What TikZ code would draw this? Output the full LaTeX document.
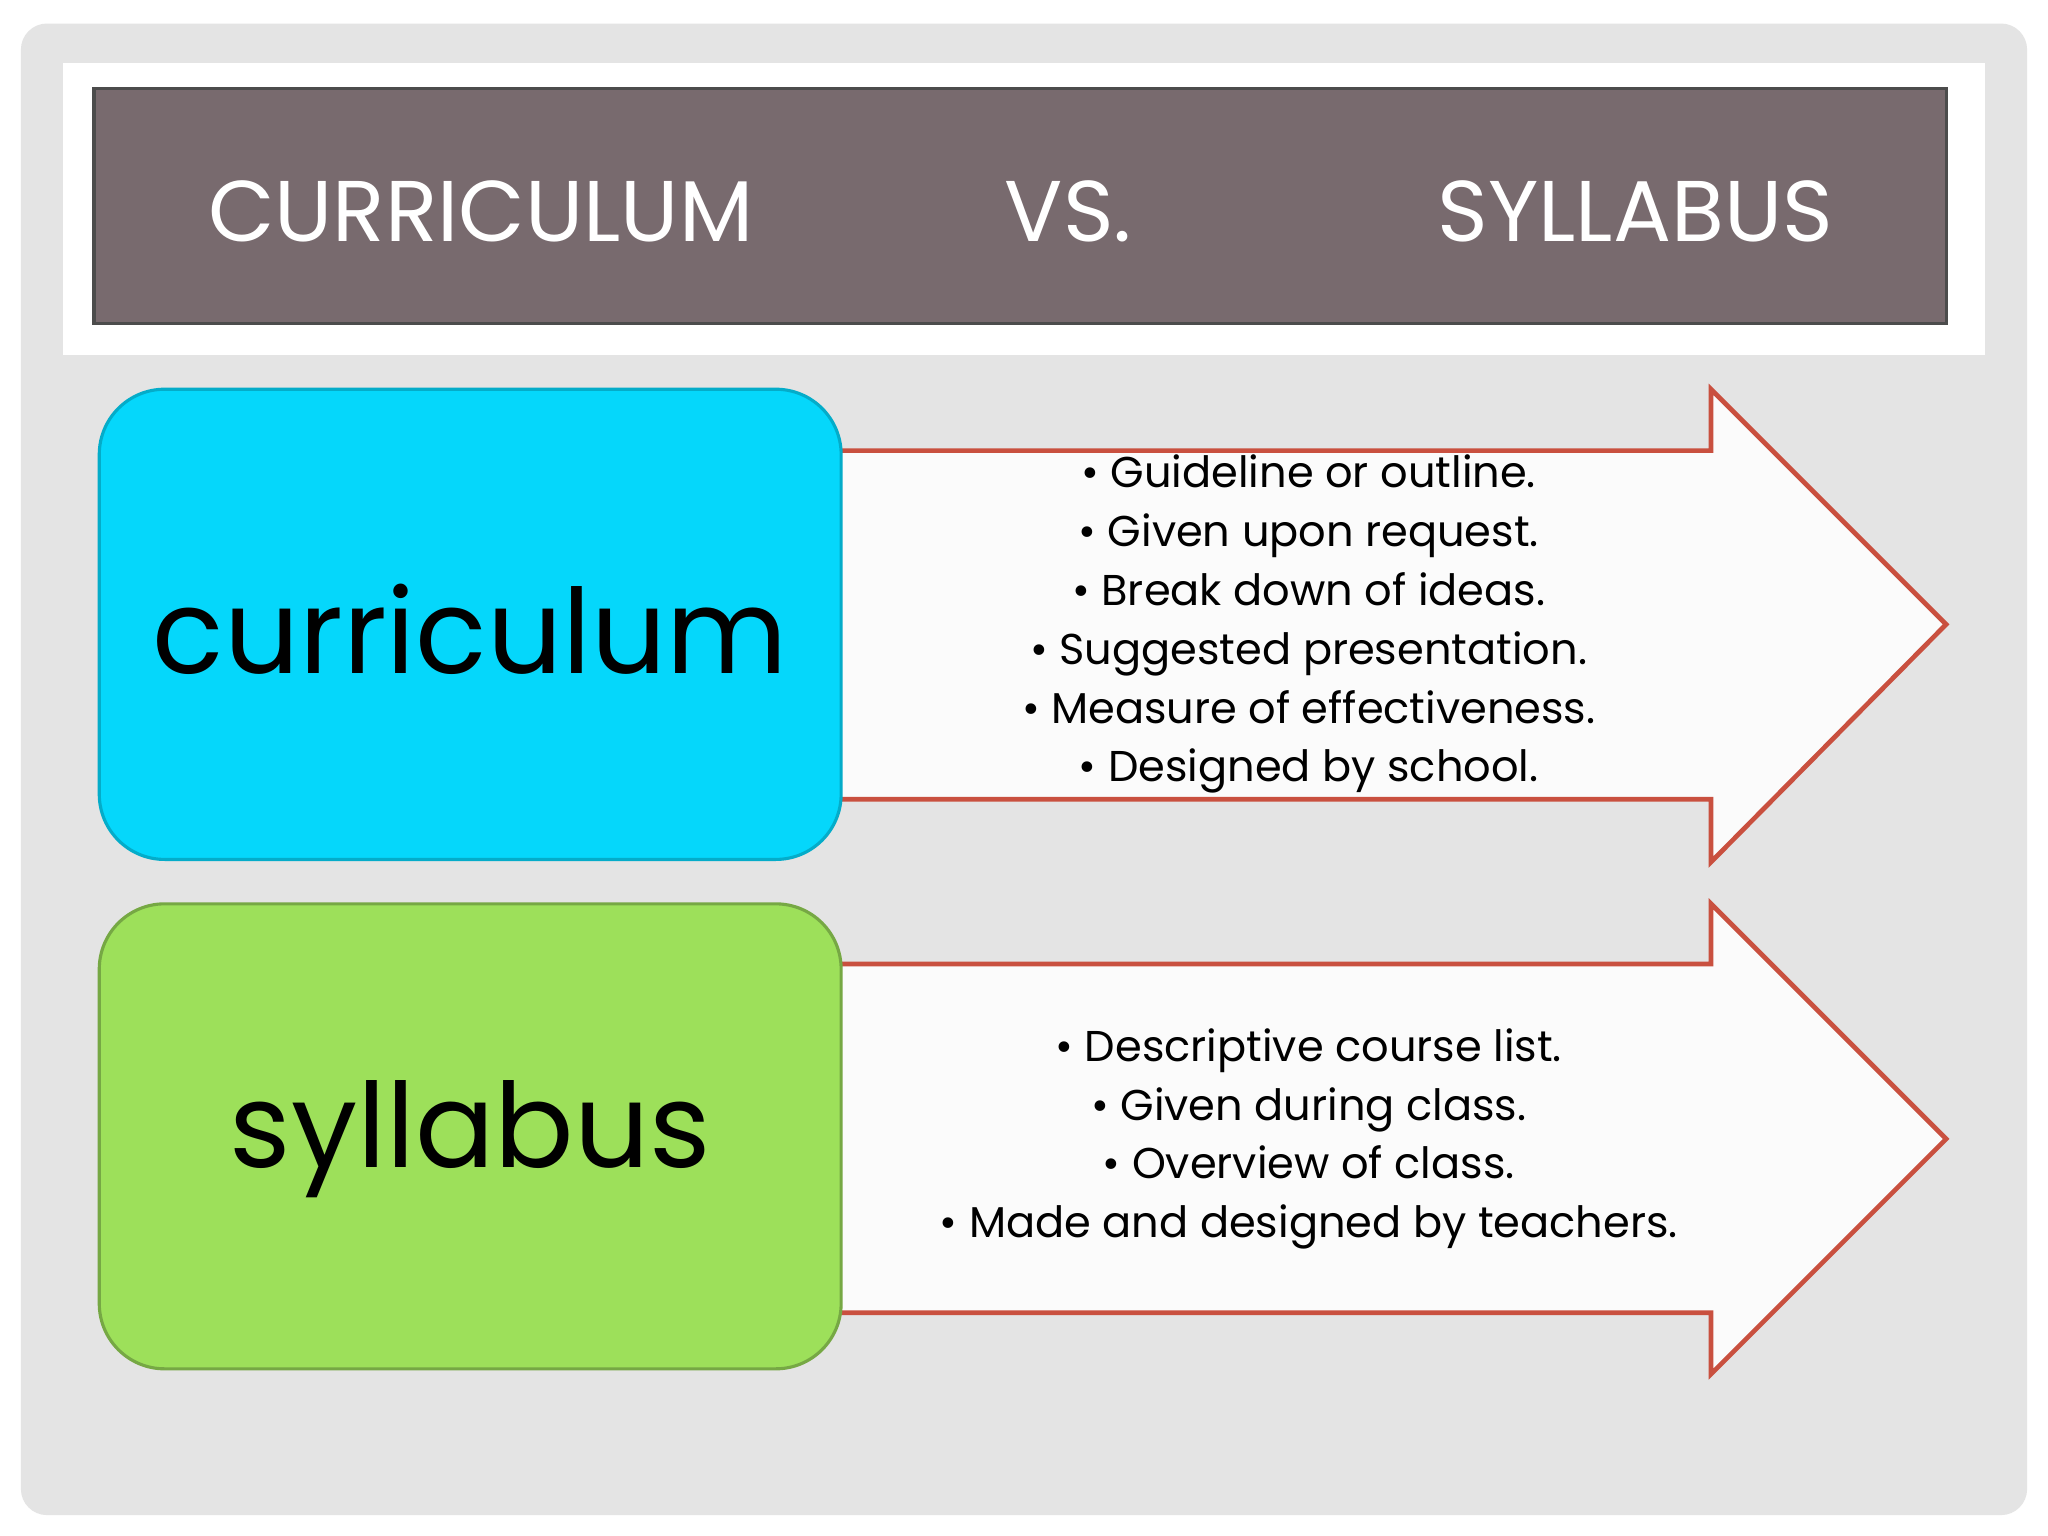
\documentclass[tikz,border=0pt]{standalone}
\usepackage{fontspec}
\setmainfont{Poppins}
\definecolor{bg}{HTML}{E4E4E4}
\definecolor{titlebg}{HTML}{786A6E}
\definecolor{arrowred}{HTML}{C9503F}
\definecolor{cyanbox}{HTML}{05D7FB}
\definecolor{greenbox}{HTML}{9DE05A}
\begin{document}
\begin{tikzpicture}[x=0.5pt,y=-0.5pt,
  arrowshape/.style={fill=white!97!gray,draw=arrowred,line width=1.8pt,line join=miter},
  box/.style={rounded corners=25pt,line width=1.2pt},
  titletxt/.style={text=white,font=\fontsize{33}{38}\selectfont},
  bigtxt/.style={font=\fontsize{45}{50}\selectfont},
  listtxt/.style={align=center,font=\fontsize{16.5}{22.5}\selectfont}]
\useasboundingbox (0,0) rectangle (1568,1176);
\fill[white] (0,0) rectangle (1568,1176);
\fill[bg,rounded corners=10pt] (16,18) rectangle (1552,1160);
\fill[white] (48,48) rectangle (1520,272);
\draw[fill=titlebg,draw=black!70,line width=1.2pt] (72,68) rectangle (1490,248);
\node[titletxt] (t1) at (368,162) {CURRICULUM};
\node[titletxt] (t2) at (818,162) {VS.};
\node[titletxt] (t3) at (1252,162) {SYLLABUS};
\draw[arrowshape] (600,345) -- (1310,345) -- (1310,298) -- (1490,478) -- (1310,660) -- (1310,612) -- (600,612) -- cycle;
\draw[arrowshape] (600,738) -- (1310,738) -- (1310,692) -- (1490,872) -- (1310,1052) -- (1310,1005) -- (600,1005) -- cycle;
\draw[box,fill=cyanbox,draw=cyanbox!80!black] (76,298) rectangle (644,658);
\draw[box,fill=greenbox,draw=greenbox!75!black] (76,692) rectangle (644,1048);
\node[bigtxt] (c) at (360,482) {curriculum};
\node[bigtxt] (s) at (360,872) {syllabus};
\node[listtxt] (l1) at (1002,478) {• Guideline or outline.\\ • Given upon request.\\ • Break down of ideas.\\ • Suggested presentation.\\ • Measure of effectiveness.\\ • Designed by school.};
\node[listtxt] (l2) at (1002,872) {• Descriptive course list.\\ • Given during class.\\ • Overview of class.\\ • Made and designed by teachers.};
\end{tikzpicture}
\end{document}
